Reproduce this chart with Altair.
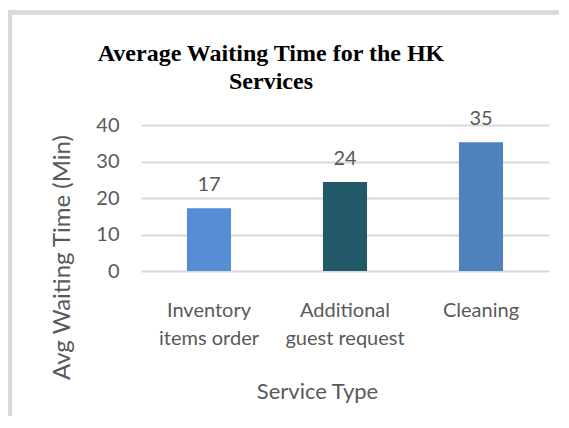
import altair as alt
import pandas as pd

services = ["Inventory items order", "Additional guest request", "Cleaning"]
minutes = [17.2, 24.4, 35.3]
bar_colors = ["#558ED5", "#215968", "#4F81BD"]
y_ticks = [0, 10, 20, 30, 40]

df = pd.DataFrame({"service": services, "minutes": minutes})

FONT = "Lato"
GRAY = "#595959"

x = alt.X(
    "service:N",
    sort=services,
    scale=alt.Scale(paddingInner=0.676, paddingOuter=0.338),
    axis=alt.Axis(
        title="Service Type",
        labelAngle=0,
        labelExpr="[split(datum.label,' ')[0], join(slice(split(datum.label,' '),1),' ')]",
        labelFont=FONT,
        labelFontSize=20,
        labelColor=GRAY,
        labelLineHeight=28,
        labelPadding=29,
        domain=False,
        ticks=False,
        titleFont=FONT,
        titleFontSize=22,
        titleFontWeight="normal",
        titleColor=GRAY,
        titleX=176,
        titleY=127,
        titleBaseline="alphabetic",
        titleAlign="center",
    ),
)

y = alt.Y(
    "minutes:Q",
    scale=alt.Scale(domain=[0, 40], nice=False),
    axis=alt.Axis(
        title="Avg Waiting Time (Min)",
        values=y_ticks,
        tickCount=5,
        labelFont=FONT,
        labelFontSize=20,
        labelColor=GRAY,
        labelPadding=22,
        domain=False,
        ticks=False,
        grid=True,
        gridColor="#D9D9D9",
        gridWidth=2,
        titleFont=FONT,
        titleFontSize=24,
        titleFontWeight="normal",
        titleColor=GRAY,
        titleX=-79,
        titleY=132,
        titleAngle=-90,
        titleAlign="center",
        titleBaseline="middle",
    ),
)

bars = alt.Chart(df).mark_bar().encode(
    x=x,
    y=y,
    color=alt.Color("service:N", scale=alt.Scale(domain=services, range=bar_colors), legend=None),
)

labels = alt.Chart(df).mark_text(
    font=FONT, fontSize=20, color=GRAY, baseline="alphabetic", dy=-17
).encode(
    x=x,
    y=y,
    text=alt.Text("minutes:Q", format=".0f"),
)

frame_top = alt.Chart(df).mark_rule(color="#D9D9D9", strokeWidth=4).encode(
    x=alt.value(-133), x2=alt.value(500), y=alt.value(-112.5)
)
frame_left = alt.Chart(df).mark_rule(color="#D9D9D9", strokeWidth=4).encode(
    x=alt.value(-131), y=alt.value(-114.5), y2=alt.value(400)
)

chart = alt.layer(bars, labels, frame_top, frame_left).properties(
    width=408,
    height=146,
    autosize=alt.AutoSizeParams(type="none"),
    padding={"left": 133, "top": 117, "right": 10, "bottom": 145},
    title=alt.TitleParams(
        text=["Average Waiting Time for the HK", "Services"],
        font="Liberation Serif",
        fontSize=24,
        fontWeight="bold",
        color="#000000",
        lineHeight=28,
        anchor="middle",
        dx=-74,
        dy=105,
        offset=20,
    ),
).configure_view(stroke=None)

chart.save("out.html", embed_options={"renderer": "svg", "actions": False})
